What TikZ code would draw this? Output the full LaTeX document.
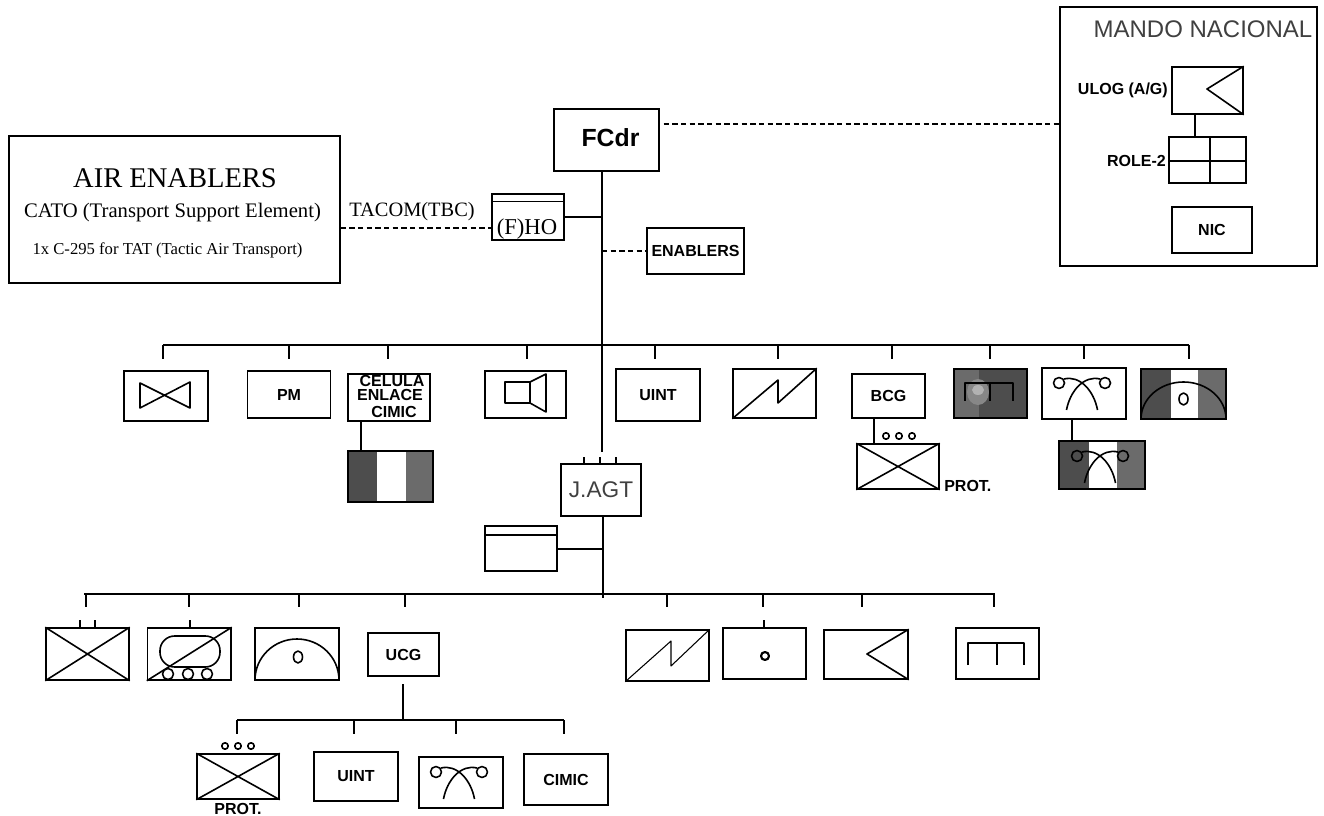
\documentclass[tikz,border=0pt]{standalone}
\usepackage{fontspec}
\setmainfont{Liberation Serif}
\setsansfont{Liberation Sans}
\usepackage{tikz}
\usetikzlibrary{positioning,calc}
\definecolor{flagdark}{RGB}{77,77,77}
\definecolor{flaggray}{RGB}{107,107,107}
\definecolor{crestgray}{RGB}{135,135,135}
\newcommand{\crossbox}[1]{\draw[sym] (#1.north west) -- (#1.south east) (#1.south west) -- (#1.north east);}
\newcommand{\flagbars}[6]{%
    \fill[flagdark] (#1,#5) rectangle (#2,#6);
    \fill[flaggray] (#3,#5) rectangle (#4,#6);}
\newcommand{\rocketsym}[2]{%
    \draw[sym] ({#1-15.5},{#2+27}) .. controls ({#1-12},{#2+8}) and ({#1+2},{#2-8}) .. ({#1+18},{#2-4});
    \draw[sym] ({#1+15.5},{#2+27}) .. controls ({#1+12},{#2+8}) and ({#1-2},{#2-8}) .. ({#1-18},{#2-4});
    \draw[sym] ({#1-23},#2) circle (5.5);
    \draw[sym] ({#1+23},#2) circle (5.5);}
\newcommand{\threedots}[2]{%
    \draw[sym] ({#1-13},#2) circle (3.2);
    \draw[sym] (#1,#2) circle (3.2);
    \draw[sym] ({#1+13},#2) circle (3.2);}

\begin{document}
\begin{tikzpicture}[
    x=0.75pt, y=-0.75pt,
    wh/.style 2 args={minimum width=#1*0.75pt, minimum height=#2*0.75pt},
    unit/.style={draw, line width=1.1pt, inner sep=0pt},
    link/.style={line width=1.1pt},
    sym/.style={line width=1.2pt, line join=round},
    dashlink/.style={line width=1.1pt, dash pattern=on 4pt off 2.5pt},
    lab/.style={font=\sffamily\bfseries\fontsize{12}{13}\selectfont, inner sep=0pt}
]
    \useasboundingbox (0,0) rectangle (1324,816);

    % top of the chain
    \node[unit, wh={331}{147}] (air) at (174.5,209.5) {};
    \node[inner sep=0pt, font=\fontsize{21.4}{24}\selectfont] (airtitle) at (175,178) {AIR ENABLERS};
    \node[inner sep=0pt, font=\fontsize{15.5}{17}\selectfont] (cato) at (172.5,213) {CATO (Transport Support Element)};
    \node[inner sep=0pt, font=\fontsize{12.5}{14}\selectfont] (c295) at (167.5,250) {1x C-295 for TAT (Tactic Air Transport)};
    \node[unit, wh={72}{46}] (hq) at (528,217) {};
    \node[inner sep=0pt, font=\fontsize{17}{19}\selectfont, anchor=base] (hqlab) at (527,235) {(F)HO};
    \node[unit, wh={105}{62}] (fcdr) at (606.5,140) {};
    \node[lab, font=\sffamily\bfseries\fontsize{18.6}{20}\selectfont] (fcdrlab) at (610.5,138) {FCdr};
    \node[unit, lab, wh={97}{46}] (enablers) at (695.5,251) {ENABLERS};
    \node[inner sep=0pt, font=\fontsize{15.3}{17}\selectfont] (tacom) at (412,212) {TACOM(TBC)};

    \draw[sym] (492,201.5) -- (564,201.5);
    \coordinate (trunka) at (602,452);
    \draw[link] (fcdr.south -| trunka) -- (trunka);
    \draw[link] (hq.east |- 0,217) -- (trunka |- 0,217);
    \draw[dashlink] (air.east |- 0,228) -- (hq.west |- 0,228);
    \draw[dashlink] (trunka |- enablers.west) -- (enablers.west);
    \draw[dashlink] (fcdr.east |- 0,124) ++(4,0) -- (1060,124);

    % national command
    \node[unit, wh={257}{259}] (mando) at (1188.5,136.5) {};
    \node[inner sep=0pt, text=black!75, font=\sffamily\fontsize{18}{20}\selectfont] (mandolab) at (1203,29) {MANDO NACIONAL};
    \node[unit, wh={71}{47}] (ulog) at (1207.5,90.5) {};
    \node[lab, anchor=east] (uloglab) at (1168,90) {ULOG (A/G)};
    \node[unit, wh={77}{46}] (role) at (1207.5,160) {};
    \node[lab, anchor=east] (rolelab) at (1166,161) {ROLE-2};
    \node[unit, lab, wh={80}{46}] (nic) at (1212,230) {NIC};
    \draw[sym] (ulog.north east) -- (1207,89) -- (ulog.south east);
    \draw[link] (1195,114) -- (1195,137);
    \draw[sym] (role.west |- 0,161) -- (role.east |- 0,161) (1210,137) -- (1210,183);

    % first row
    \coordinate (busa) at (163,345);
    \coordinate (busb) at (1189,345);
    \draw[link] (busa) -- (busb);
    \foreach \i/\sx in {1/163,2/289,3/388,4/527,5/655,6/778,7/892,8/990,9/1084,10/1189}{
        \coordinate (t\i) at (\sx,359);
        \draw[link] (t\i |- busa) -- (t\i);
    }

    \node[unit, wh={84}{50}] (bowtie) at (166,396) {};
    \draw[sym] (140,383) -- (190,408) -- (190,382) -- (140,408) -- cycle;
    \node[unit, lab, wh={82.5}{47}] (pm) at (289,394.5) {PM};
    \node[unit, wh={82}{47}] (celula) at (389,397.5) {};
    \node[lab] (cell) at (392,381) {CELULA};
    \node[lab] (enl) at (390,395) {ENLACE};
    \node[lab] (cim) at (394,412) {CIMIC};
    \flagbars{348}{377}{406}{433}{451}{502}
    \node[unit, wh={85}{51}] (flagcimic) at (390.5,476.5) {};
    \draw[link] (361,421) -- (361,451);
    \node[unit, wh={81}{47}] (speaker) at (525.5,394.5) {};
    \draw[sym] (505,382) rectangle (530,403);
    \draw[sym] (530,382) -- (546,374) -- (546,412) -- (530,403);
    \node[unit, lab, wh={84}{52}] (uint) at (658,395) {UINT};
    \node[unit, wh={83}{49}] (signal) at (774.5,393.5) {};
    \draw[sym] (signal.south west) -- (778,380) -- (778,403) -- (signal.north east);
    \node[unit, lab, wh={73}{44}] (bcg) at (888.5,396) {BCG};
    \threedots{899}{436}
    \node[unit, wh={82}{45}] (prot) at (898,466.5) {};
    \crossbox{prot}
    \draw[link] (874,418) -- (874,444);
    \node[lab, anchor=west] (protlab) at (944,486) {PROT.};

    \fill[flaggray] (954,369) rectangle (979,418);
    \fill[flagdark] (979,369) rectangle (1027,418);
    \fill[crestgray] (978,392) ellipse (11 and 13);
    \fill[black!30] (978,390) ellipse (6 and 5);
    \node[unit, wh={73}{49}] (flageng) at (990.5,393.5) {};
    \draw[sym] (965,401) -- (965,383) -- (1013,383) -- (1013,401) (990,383) -- (990,401);
    \node[unit, wh={84}{51}] (rocket) at (1084,393.5) {};
    \rocketsym{1082}{383}
    \flagbars{1141}{1170.5}{1198}{1226}{369}{419}
    \node[unit, wh={85}{50}] (flagart) at (1183.5,394) {};
    \draw[sym] (1141,419) arc[start angle=180, end angle=360, x radius=42.5, y radius=37];
    \draw[sym] (1183.5,399) ellipse (4.5 and 6);
    \flagbars{1059}{1089}{1117}{1145}{441}{489}
    \node[unit, wh={86}{48}] (flagrocket) at (1102,465) {};
    \rocketsym{1100}{456}
    \draw[link] (1072,419) -- (1072,441);

    % task group
    \node[unit, wh={80}{52}, text=black!75, font=\sffamily\fontsize{17}{19}\selectfont] (jagt) at (601,490) {J.AGT};
    \draw[link] (584,457) -- (584,464) (600,457) -- (600,464) (616,457) -- (616,464);
    \node[unit, wh={72}{45}] (staff) at (521,548.5) {};
    \draw[sym] (485,535) -- (557,535);
    \coordinate (trunkb) at (603,598);
    \draw[link] (trunkb |- jagt.south) -- (trunkb);
    \draw[link] (staff.east |- 0,549) -- (trunkb |- 0,549);

    % second row
    \coordinate (busc) at (84,594);
    \coordinate (busd) at (995,594);
    \draw[link] (busc) -- (busd);
    \foreach \i/\sx in {1/86,2/189,3/299,4/405,5/667,6/763,7/862,8/994}{
        \coordinate (u\i) at (\sx,607);
        \draw[link] (u\i |- busc) -- (u\i);
    }

    \node[unit, wh={83}{52}] (inf) at (87.5,654) {};
    \crossbox{inf}
    \draw[link] (80,620) -- (80,628) (95,620) -- (95,628);
    \node[unit, wh={83.5}{52}] (recce) at (189.25,654) {};
    \draw[sym] (recce.south west) -- (recce.north east);
    \draw[sym, rounded corners=11pt] (160,636) rectangle (220,667);
    \draw[sym] (168,674) circle (5.5) (188,674) circle (5.5) (207,674) circle (5.5);
    \draw[link] (190,620) -- (190,628);
    \node[unit, wh={84}{52}] (art) at (297,654) {};
    \draw[sym] (255,680) arc[start angle=180, end angle=360, x radius=42, y radius=41];
    \draw[sym] (298,657) ellipse (4.5 and 6);
    \node[unit, lab, wh={71}{43}] (ucg) at (403.5,654.5) {UCG};
    \node[unit, wh={83}{51}] (signalb) at (667.5,655.5) {};
    \draw[sym, line width=0.8pt] (signalb.south west) -- (671,641) -- (671,666) -- (signalb.north east);
    \node[unit, wh={83}{51}] (med) at (764.5,653.5) {};
    \draw[sym, line width=1.6pt] (765,656) circle (4);
    \draw[link] (764,620) -- (764,628);
    \node[unit, wh={84}{49}] (logi) at (866,654.5) {};
    \draw[sym] (logi.north east) -- (867,654) -- (logi.south east);
    \node[unit, wh={83}{51}] (eng) at (997.5,653.5) {};
    \draw[sym] (968,665) -- (968,643) -- (1024,643) -- (1024,665);
    \draw[line width=1.8pt] (997,643) -- (997,665);

    % under UCG
    \coordinate (trunkc) at (403,720);
    \draw[link] (trunkc |- 0,684) -- (trunkc);
    \coordinate (buse) at (237,720);
    \coordinate (busf) at (564,720);
    \draw[link] (buse) -- (busf);
    \foreach \i/\sx in {1/237,2/354,3/456,4/564}{
        \coordinate (v\i) at (\sx,734);
        \draw[link] (v\i |- buse) -- (v\i);
    }
    \threedots{238}{746}
    \node[unit, wh={82}{45}] (protb) at (238,776.5) {};
    \crossbox{protb}
    \node[lab] (protblab) at (238,809) {PROT.};
    \node[unit, lab, wh={84}{49}] (uintb) at (356,776.5) {UINT};
    \node[unit, wh={84}{51}] (rocketb) at (461,782.5) {};
    \rocketsym{459}{772}
    \node[unit, lab, wh={84}{51}] (cimic) at (566,779.5) {CIMIC};
\end{tikzpicture}
\end{document}
